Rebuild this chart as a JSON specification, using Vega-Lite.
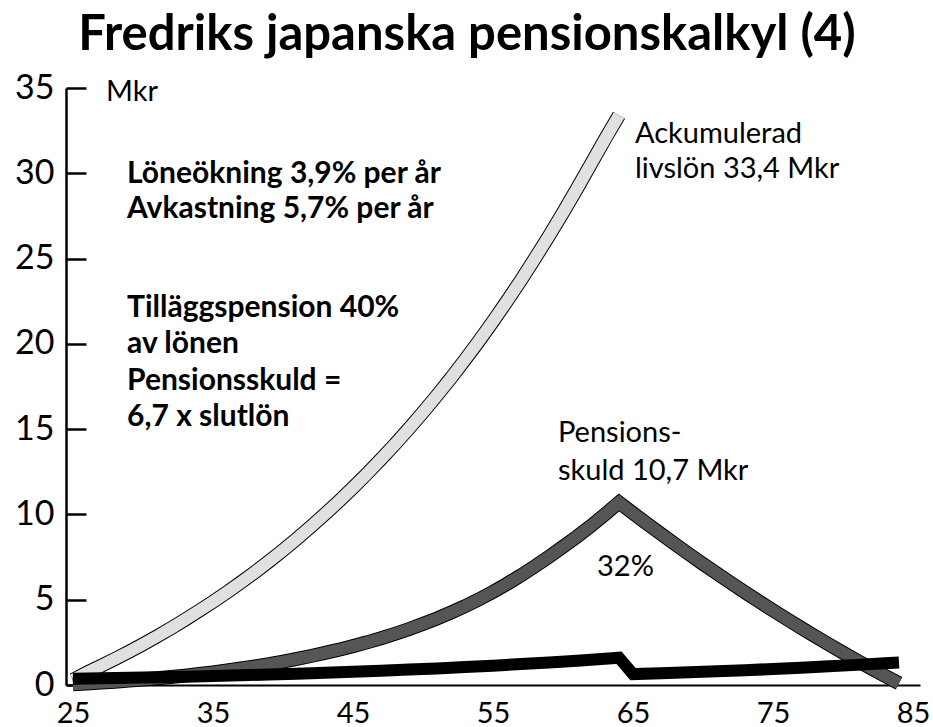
{
  "$schema": "https://vega.github.io/schema/vega-lite/v6.json",
  "autosize": "none",
  "width": 854,
  "height": 597,
  "padding": {"left": 66, "top": 88, "right": 13, "bottom": 42},
  "background": "white",
  "config": {"view": {"stroke": null}, "font": "Lato"},
  "title": {
    "text": "Fredriks japanska pensionskalkyl (4)",
    "font": "Lato",
    "fontWeight": "bold",
    "fontSize": 49,
    "color": "black",
    "anchor": "middle",
    "frame": "group",
    "baseline": "alphabetic",
    "offset": 5,
    "dy": 33,
    "dx": -26
  },
  "datasets": {
    "lon": [
      {"age": 25, "v": 0.3}, {"age": 26, "v": 0.73}, {"age": 27, "v": 1.12}, {"age": 28, "v": 1.53},
      {"age": 29, "v": 1.95}, {"age": 30, "v": 2.39}, {"age": 31, "v": 2.85}, {"age": 32, "v": 3.33},
      {"age": 33, "v": 3.83}, {"age": 34, "v": 4.35}, {"age": 35, "v": 4.88}, {"age": 36, "v": 5.44},
      {"age": 37, "v": 6.02}, {"age": 38, "v": 6.62}, {"age": 39, "v": 7.25}, {"age": 40, "v": 7.9},
      {"age": 41, "v": 8.58}, {"age": 42, "v": 9.29}, {"age": 43, "v": 10.02}, {"age": 44, "v": 10.78},
      {"age": 45, "v": 11.57}, {"age": 46, "v": 12.39}, {"age": 47, "v": 13.24}, {"age": 48, "v": 14.12},
      {"age": 49, "v": 15.04}, {"age": 50, "v": 15.99}, {"age": 51, "v": 16.98}, {"age": 52, "v": 18.0},
      {"age": 53, "v": 19.07}, {"age": 54, "v": 20.17}, {"age": 55, "v": 21.32}, {"age": 56, "v": 22.51},
      {"age": 57, "v": 23.74}, {"age": 58, "v": 25.02}, {"age": 59, "v": 26.33}, {"age": 60, "v": 27.69},
      {"age": 61, "v": 29.1}, {"age": 62, "v": 30.55}, {"age": 63, "v": 32.0}, {"age": 64, "v": 33.4}
    ],
    "skuld": [
      {"age": 25, "v": 0.04}, {"age": 26, "v": 0.09}, {"age": 27, "v": 0.14}, {"age": 28, "v": 0.19},
      {"age": 29, "v": 0.26}, {"age": 30, "v": 0.32}, {"age": 31, "v": 0.39}, {"age": 32, "v": 0.47},
      {"age": 33, "v": 0.55}, {"age": 34, "v": 0.64}, {"age": 35, "v": 0.74}, {"age": 36, "v": 0.85},
      {"age": 37, "v": 0.97}, {"age": 38, "v": 1.09}, {"age": 39, "v": 1.22}, {"age": 40, "v": 1.37},
      {"age": 41, "v": 1.53}, {"age": 42, "v": 1.7}, {"age": 43, "v": 1.88}, {"age": 44, "v": 2.07},
      {"age": 45, "v": 2.28}, {"age": 46, "v": 2.5}, {"age": 47, "v": 2.74}, {"age": 48, "v": 3.0},
      {"age": 49, "v": 3.28}, {"age": 50, "v": 3.58}, {"age": 51, "v": 3.9}, {"age": 52, "v": 4.25},
      {"age": 53, "v": 4.62}, {"age": 54, "v": 5.02}, {"age": 55, "v": 5.46}, {"age": 56, "v": 5.93},
      {"age": 57, "v": 6.43}, {"age": 58, "v": 6.96}, {"age": 59, "v": 7.52}, {"age": 60, "v": 8.1},
      {"age": 61, "v": 8.7}, {"age": 62, "v": 9.33}, {"age": 63, "v": 10.0}, {"age": 64, "v": 10.7},
      {"age": 65, "v": 10.075}, {"age": 66, "v": 9.46}, {"age": 67, "v": 8.855}, {"age": 68, "v": 8.26},
      {"age": 69, "v": 7.675}, {"age": 70, "v": 7.1}, {"age": 71, "v": 6.535}, {"age": 72, "v": 5.98},
      {"age": 73, "v": 5.435}, {"age": 74, "v": 4.9}, {"age": 75, "v": 4.375}, {"age": 76, "v": 3.86},
      {"age": 77, "v": 3.355}, {"age": 78, "v": 2.86}, {"age": 79, "v": 2.375}, {"age": 80, "v": 1.9},
      {"age": 81, "v": 1.435}, {"age": 82, "v": 0.98}, {"age": 83, "v": 0.535}, {"age": 84, "v": 0.1}
    ],
    "inkomst": [
      {"age": 25, "v": 0.36}, {"age": 27, "v": 0.389}, {"age": 29, "v": 0.42}, {"age": 31, "v": 0.453},
      {"age": 33, "v": 0.489}, {"age": 35, "v": 0.528}, {"age": 37, "v": 0.57}, {"age": 39, "v": 0.615},
      {"age": 41, "v": 0.664}, {"age": 43, "v": 0.717}, {"age": 45, "v": 0.774}, {"age": 47, "v": 0.835},
      {"age": 49, "v": 0.902}, {"age": 51, "v": 0.973}, {"age": 53, "v": 1.051}, {"age": 55, "v": 1.134},
      {"age": 57, "v": 1.225}, {"age": 59, "v": 1.322}, {"age": 61, "v": 1.427}, {"age": 63, "v": 1.541},
      {"age": 64, "v": 1.601}, {"age": 65, "v": 0.64}, {"age": 67, "v": 0.691}, {"age": 69, "v": 0.746},
      {"age": 71, "v": 0.805}, {"age": 73, "v": 0.869}, {"age": 75, "v": 0.938}, {"age": 77, "v": 1.013},
      {"age": 79, "v": 1.094}, {"age": 81, "v": 1.18}, {"age": 83, "v": 1.274}, {"age": 84, "v": 1.324}
    ],
    "texter": [
      {"id": "r35", "age": 27.36, "v": 34.24, "t": "Mkr"},
      {"id": "b35", "age": 28.86, "v": 29.45, "t": "Löneökning 3,9% per år\nAvkastning 5,7% per år"},
      {"id": "b36", "age": 28.86, "v": 21.6, "t": "Tilläggspension 40%\nav lönen\nPensionsskuld =\n6,7 x slutlön"},
      {"id": "r35", "age": 65.14, "v": 31.77, "t": "Ackumulerad\nlivslön 33,4 Mkr"},
      {"id": "r37", "age": 59.64, "v": 14.23, "t": "Pensions-\nskuld 10,7 Mkr"},
      {"id": "r35", "age": 62.43, "v": 6.37, "t": "32%"}
    ]
  },
  "encoding": {
    "x": {
      "field": "age", "type": "quantitative",
      "scale": {"domain": [24.5, 85.5], "nice": false, "zero": false},
      "axis": {
        "title": null, "values": [25, 35, 45, 55, 65, 75, 85], "ticks": false, "grid": false,
        "domainColor": "black", "domainWidth": 2, "labelFont": "Lato", "labelFontSize": 29,
        "labelColor": "black", "labelPadding": 14, "labelFlush": false
      }
    },
    "y": {
      "field": "v", "type": "quantitative",
      "scale": {"domain": [0, 35], "nice": false},
      "axis": {
        "title": null, "values": [0, 5, 10, 15, 20, 25, 30, 35], "grid": false,
        "domainColor": "black", "domainWidth": 2.5, "tickColor": "black", "tickWidth": 2.5,
        "tickSize": -20, "labelPadding": 32, "labelFont": "Lato", "labelFontSize": 34,
        "labelColor": "black", "labelFlush": false
      }
    }
  },
  "layer": [
    {"data": {"name": "lon"}, "mark": {"type": "line", "stroke": "black", "strokeWidth": 14, "clip": false}},
    {"data": {"name": "lon"}, "mark": {"type": "line", "stroke": "#e0e0e0", "strokeWidth": 12, "clip": false}},
    {"data": {"name": "skuld"}, "mark": {"type": "line", "stroke": "black", "strokeWidth": 14, "clip": false}},
    {"data": {"name": "skuld"}, "mark": {"type": "line", "stroke": "#555555", "strokeWidth": 12, "clip": false}},
    {"data": {"name": "inkomst"}, "mark": {"type": "line", "stroke": "black", "strokeWidth": 12, "clip": false}},
    {
      "data": {"name": "texter"},
      "transform": [{"filter": "datum.id == 'r35'"}],
      "mark": {"type": "text", "align": "left", "baseline": "alphabetic", "font": "Lato", "fontSize": 29, "lineHeight": 35, "lineBreak": "\n", "color": "black"},
      "encoding": {"text": {"field": "t"}}
    },
    {
      "data": {"name": "texter"},
      "transform": [{"filter": "datum.id == 'r37'"}],
      "mark": {"type": "text", "align": "left", "baseline": "alphabetic", "font": "Lato", "fontSize": 29, "lineHeight": 37.5, "lineBreak": "\n", "color": "black"},
      "encoding": {"text": {"field": "t"}}
    },
    {
      "data": {"name": "texter"},
      "transform": [{"filter": "datum.id == 'b35'"}],
      "mark": {"type": "text", "align": "left", "baseline": "alphabetic", "font": "Lato", "fontWeight": "bold", "fontSize": 30, "lineHeight": 35, "lineBreak": "\n", "color": "black"},
      "encoding": {"text": {"field": "t"}}
    },
    {
      "data": {"name": "texter"},
      "transform": [{"filter": "datum.id == 'b36'"}],
      "mark": {"type": "text", "align": "left", "baseline": "alphabetic", "font": "Lato", "fontWeight": "bold", "fontSize": 30, "lineHeight": 36.5, "lineBreak": "\n", "color": "black"},
      "encoding": {"text": {"field": "t"}}
    }
  ]
}
